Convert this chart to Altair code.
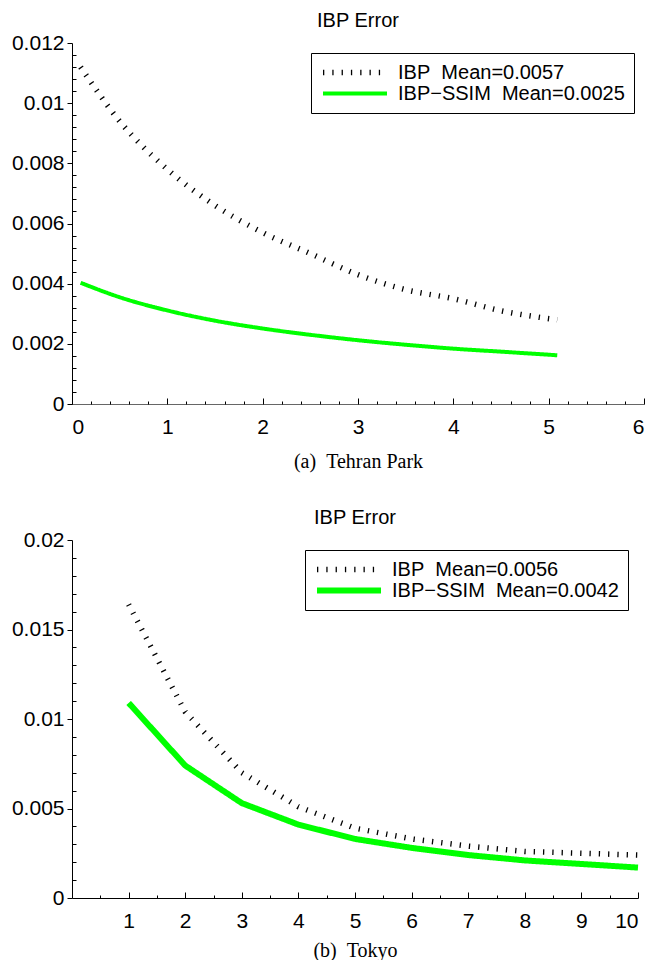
import altair as alt
import pandas as pd

# ---------------- data ----------------
# Panel (a) Tehran Park
x1 = [0.09, 0.5, 1.0, 1.5, 2.0, 2.5, 3.0, 3.5, 4.0, 4.5, 5.09]
ibp1 = [0.0112, 0.0094, 0.0078, 0.0066, 0.0057, 0.0050, 0.0043, 0.0038, 0.0035, 0.0031, 0.0028]
ssim1 = [0.00403, 0.00355, 0.00311, 0.00277, 0.00251, 0.00230, 0.00212, 0.00197, 0.00184, 0.00174, 0.00162]
labels1 = ["IBP\u00a0\u00a0Mean=0.0057", "IBP\u2212SSIM\u00a0\u00a0Mean=0.0025"]

# Panel (b) Tokyo
x2 = [1, 2, 3, 4, 5, 6, 7, 8, 9, 10]
ibp2 = [0.0164, 0.0104, 0.0070, 0.0051, 0.0039, 0.0033, 0.0029, 0.0026, 0.0025, 0.0024]
ssim2 = [0.0109, 0.0074, 0.0053, 0.0041, 0.0033, 0.0028, 0.0024, 0.0021, 0.0019, 0.0017]
labels2 = ["IBP\u00a0\u00a0Mean=0.0056", "IBP\u2212SSIM\u00a0\u00a0Mean=0.0042"]

# axis tick values
xmaj1 = [0, 1, 2, 3, 4, 5, 6]
xmin1 = [round(i * 0.2, 1) for i in range(31) if i % 5 != 0]
ymaj1 = [0, 0.002, 0.004, 0.006, 0.008, 0.01, 0.012]
ymin1 = [round(i * 0.0004, 4) for i in range(31) if i % 5 != 0]

xmaj2 = [1, 2, 3, 4, 5, 6, 7, 8, 9, 10]
xmin2 = [i + 0.5 for i in range(10)]
ymaj2 = [0, 0.005, 0.01, 0.015, 0.02]
ymin2 = [round(i * 0.001, 3) for i in range(21) if i % 5 != 0]

SANS = "Liberation Sans"
SERIF = "Liberation Serif"
GREEN = "#00ff00"


def panel(xs, a, b, labels, xdom, xlab, xmaj, xmin, ydom, ymaj, ymin,
          W, H, caption, widths, interp, xdomcolor, cap_pad):
    df = pd.DataFrame({
        "x": list(xs) + list(xs),
        "y": list(a) + list(b),
        "s": [labels[0]] * len(xs) + [labels[1]] * len(xs),
    })
    xsc = alt.Scale(domain=xdom, nice=False, zero=False)
    ysc = alt.Scale(domain=ydom, nice=False)
    leg = alt.Legend(title=None, orient="top-right", offset=10)
    lines = alt.Chart(df).mark_line(interpolate=interp, strokeCap="butt").encode(
        x=alt.X("x:Q", scale=xsc, axis=alt.Axis(
            orient="bottom", values=xlab, ticks=False, labelPadding=12,
            domainColor=xdomcolor, title=caption, titleFont=SERIF,
            titleFontSize=20, titleFontWeight="normal", titlePadding=cap_pad,
            titleColor="black", grid=False)),
        y=alt.Y("y:Q", scale=ysc, axis=alt.Axis(
            orient="left", values=ymaj, tickSize=5, labelPadding=3,
            format="~g", title=None, grid=False)),
        color=alt.Color("s:N", scale=alt.Scale(domain=labels, range=["black", GREEN]), legend=leg),
        strokeDash=alt.StrokeDash("s:N", scale=alt.Scale(domain=labels, range=[[1.3, 8], [1, 0]]), legend=leg),
        strokeWidth=alt.StrokeWidth("s:N", scale=alt.Scale(domain=labels, range=widths), legend=leg),
        detail="s:N",
    )
    ticks_a = alt.Chart(df).mark_point(opacity=0).encode(
        x=alt.X("x:Q", scale=xsc, axis=alt.Axis(
            orient="top", offset=-H, values=xmaj, tickSize=6, labels=False,
            domain=False, title=None, grid=False, minExtent=0, maxExtent=0)),
        y=alt.Y("y:Q", scale=ysc, axis=alt.Axis(
            orient="right", offset=-W, values=ymin, tickSize=4, labels=False,
            domain=False, title=None, grid=False, minExtent=0, maxExtent=0)),
    )
    ticks_b = alt.Chart(df).mark_point(opacity=0).encode(
        x=alt.X("x:Q", scale=xsc, axis=alt.Axis(
            orient="top", offset=-H, values=xmin, tickSize=3, labels=False,
            domain=False, title=None, grid=False, minExtent=0, maxExtent=0)),
        y=alt.Y("y:Q", scale=ysc, axis=None),
    )
    return alt.layer(lines, ticks_a, ticks_b).resolve_axis(
        x="independent", y="independent"
    ).properties(
        width=W, height=H,
        title=alt.TitleParams("IBP Error", font=SANS, fontSize=20,
                              fontWeight="normal", color="black", offset=1),
    )


p1 = panel(x1, ibp1, ssim1, labels1, [0, 6], xmaj1, xmaj1, xmin1, [0, 0.012],
           ymaj1, ymin1, 572, 361, "(a)\u00a0\u00a0Tehran Park", [5.5, 4], "monotone", "#666666", 14)
p2 = panel(x2, ibp2, ssim2, labels2, [0, 10], xmaj2, xmaj2, xmin2, [0, 0.02],
           ymaj2, ymin2, 566, 358, "(b)\u00a0\u00a0Tokyo", [5.5, 6], "linear", "black", 9)

chart = alt.vconcat(p1, p2, spacing=37).resolve_scale(
    color="independent", strokeDash="independent", strokeWidth="independent"
).resolve_legend(
    color="independent", strokeDash="independent", strokeWidth="independent"
).properties(
    padding={"left": 3, "top": 3, "right": 0, "bottom": 0}
).configure(
    font=SANS,
).configure_view(
    stroke=None,
).configure_axis(
    labelFont=SANS, labelFontSize=21, labelColor="black",
    domainColor="black", tickColor="black", domainWidth=1, tickWidth=1,
).configure_legend(
    strokeColor="black", fillColor="white",
    padding=9, labelFont=SANS, labelFontSize=20, labelColor="black",
    symbolType="stroke", symbolSize=4096, labelOffset=8, labelLimit=400,
    clipHeight=21, rowPadding=0, cornerRadius=0,
)

chart.save("out.html", embed_options={"renderer": "svg", "actions": False})
